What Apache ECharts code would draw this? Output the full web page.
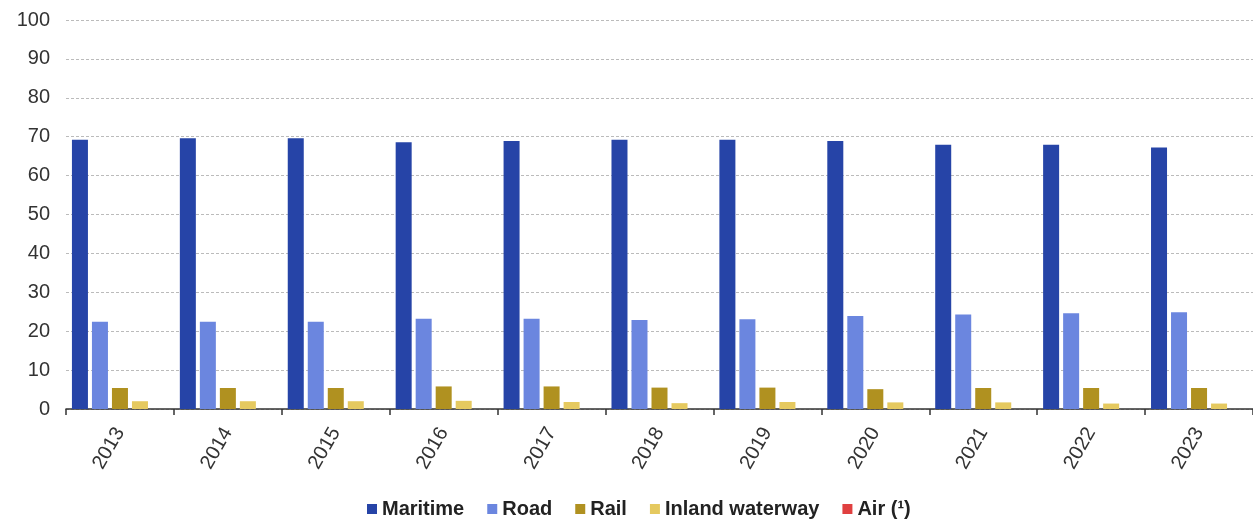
<!DOCTYPE html>
<html><head><meta charset="utf-8">
<script src="https://cdn.jsdelivr.net/npm/echarts@6/dist/echarts.min.js"></script>
<style>html,body{margin:0;padding:0;background:#fff}#c{width:1253px;height:523px}</style>
</head><body><div id="c"></div>
<script>
const years = ['2013','2014','2015','2016','2017','2018','2019','2020','2021','2022','2023'];
const maritime = [69.2,69.6,69.6,68.6,68.9,69.2,69.2,68.9,67.9,67.9,67.2];
const road = [22.4,22.4,22.4,23.2,23.2,22.9,23.1,23.9,24.3,24.6,24.9];
const rail = [5.4,5.4,5.4,5.8,5.8,5.5,5.5,5.1,5.4,5.4,5.4];
const inland = [2.0,2.0,2.0,2.1,1.8,1.5,1.8,1.7,1.7,1.4,1.4];
const air = [0,0,0,0,0,0,0,0,0,0,0];
const yTicks = [0,10,20,30,40,50,60,70,80,90,100];

const names = ['Maritime','Road','Rail','Inland waterway','Air (¹)'];
const colors = ['#2644A7','#6B86DF','#B09120','#E5C95F','#E04040'];
const dataSets = [maritime, road, rail, inland, air];

const chart = echarts.init(document.getElementById('c'));
chart.setOption({
  animation: false,
  textStyle: {fontFamily: 'Liberation Sans, Arial, sans-serif'},
  grid: {left: 66, right: 0, top: 20, bottom: 114, containLabel: false},
  legend: {
    top: 499, left: 367, padding: 0,
    itemWidth: 10, itemHeight: 10, itemGap: 23, icon: 'rect',
    textStyle: {fontSize: 20, fontWeight: 'bold', color: '#222'},
    data: names
  },
  xAxis: {
    type: 'category', data: years,
    axisLine: {lineStyle: {color: '#333', width: 1.5}},
    axisTick: {show: true, length: 6, lineStyle: {color: '#333', width: 1.5}},
    axisLabel: {rotate: 60, fontSize: 20, color: '#333', margin: 20}
  },
  yAxis: {
    type: 'value', min: yTicks[0], max: yTicks[yTicks.length-1], interval: 10,
    axisLine: {show: false}, axisTick: {show: false},
    axisLabel: {fontSize: 20, color: '#333', margin: 16},
    splitLine: {lineStyle: {type: [3,2], color: '#bbbbbb', width: 1}}
  },
  series: dataSets.map((d, i) => ({
    name: names[i], type: 'bar', data: d,
    barGap: '25%', barCategoryGap: '11%',
    itemStyle: {color: colors[i]}
  }))
});
</script></body></html>
